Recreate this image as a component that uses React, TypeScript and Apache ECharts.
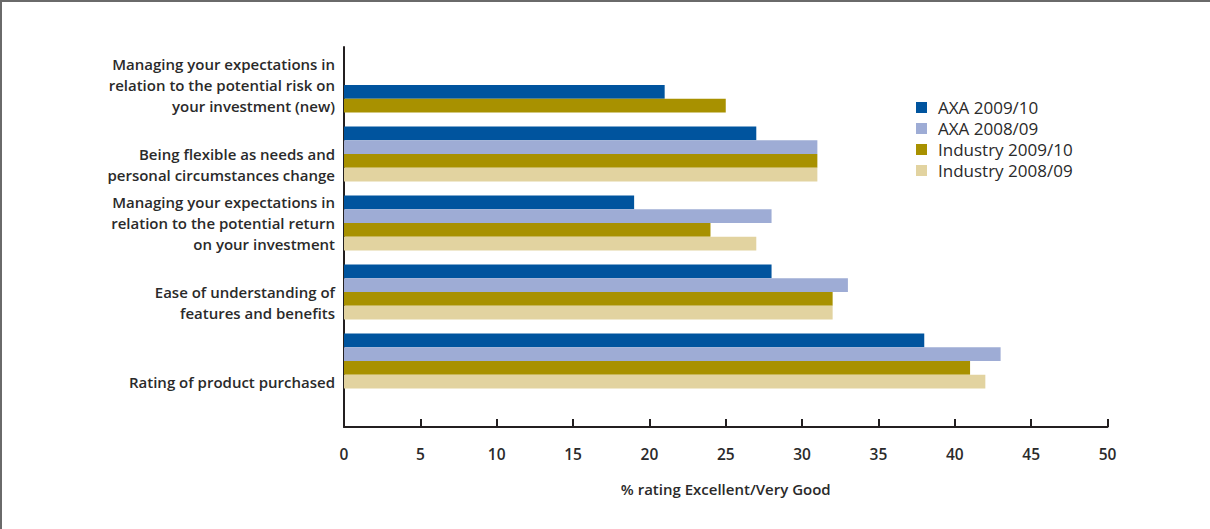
import React, { useEffect, useRef } from "react";
import * as echarts from "echarts";

// Survey categories, top to bottom
const categories = [
  "Managing your expectations in\nrelation to the potential risk on\nyour investment (new)",
  "Being flexible as needs and\npersonal circumstances change",
  "Managing your expectations in\nrelation to the potential return\non your investment",
  "Ease of understanding of\nfeatures and benefits",
  "Rating of product purchased",
];

// Blank lines pushed above each label so it sits lower beside its bar group
const labelDropLines = [0, 1, 0, 1, 2];

const seriesNames = ["AXA 2009/10", "AXA 2008/09", "Industry 2009/10", "Industry 2008/09"];
const seriesColors = ["#00549e", "#9eacd5", "#a89100", "#e2d3a0"];

// % rating Excellent/Very Good (null = not surveyed)
const axa0910 = [null, 27, 19, 28, 38];
const axa0809 = [null, 31, 28, 33, 43];
const ind0910 = [null, 31, 24, 32, 41];
const ind0809 = [null, 31, 27, 32, 42];

// The new question only has 2009/10 results; its two bars sit in the
// lower half of the group.
const newQuestionAxa0910 = [21, null, null, null, null];
const newQuestionInd0910 = [25, null, null, null, null];

const xTicks = { min: 0, max: 50, interval: 5 };

const FONT = "'Open Sans', 'Liberation Sans', sans-serif";
const INK = "#2a2a2a";

export default function App() {
  const ref = useRef<HTMLDivElement>(null);

  useEffect(() => {
    if (!ref.current) return;
    const chart = echarts.init(ref.current, undefined, { renderer: "svg" });

    const bar = (name: string, data: (number | null)[], color: string, stack: string) => ({
      type: "bar",
      name,
      data,
      stack,
      xAxisIndex: 1,
      yAxisIndex: 1,
      itemStyle: { color },
      barGap: "0%",
      barCategoryGap: "20%",
      emphasis: { disabled: true },
    });

    chart.setOption({
      animation: false,
      backgroundColor: "#ffffff",
      textStyle: { fontFamily: FONT },
      legend: {
        data: seriesNames,
        orient: "vertical",
        left: 911,
        top: 92,
        itemWidth: 11,
        itemHeight: 11,
        itemGap: 0,
        icon: "rect",
        selectedMode: false,
        textStyle: {
          fontFamily: FONT,
          fontSize: 17,
          color: INK,
          lineHeight: 21,
          padding: [0, 0, 0, 6],
        },
      },
      grid: [
        // frame grid: carries the visible axes
        { left: 344, right: 102.5, top: 47, bottom: 102, containLabel: false },
        // bar grid: category bands
        { left: 344, right: 102.5, top: 50.5, height: 345, containLabel: false },
      ],
      xAxis: [
        {
          type: "value",
          gridIndex: 0,
          min: xTicks.min,
          max: xTicks.max,
          interval: xTicks.interval,
          name: "% rating Excellent/Very Good",
          nameLocation: "middle",
          nameGap: 54,
          nameTextStyle: { fontFamily: FONT, fontSize: 15, fontWeight: 600, color: INK },
          axisLine: { show: true, lineStyle: { color: "#231f20", width: 2 } },
          axisTick: { show: true, inside: true, length: 8, lineStyle: { color: "#231f20", width: 2 } },
          axisLabel: { margin: 19, fontFamily: FONT, fontSize: 15.5, fontWeight: 600, color: INK },
          splitLine: { show: false },
        },
        {
          type: "value",
          gridIndex: 1,
          min: xTicks.min,
          max: xTicks.max,
          interval: xTicks.interval,
          show: false,
        },
      ],
      yAxis: [
        {
          type: "category",
          gridIndex: 0,
          data: ["", ""],
          axisLine: { show: true, lineStyle: { color: "#231f20", width: 2 } },
          axisTick: { show: false },
          axisLabel: { show: false },
          splitLine: { show: false },
        },
        {
          type: "category",
          gridIndex: 1,
          inverse: true,
          data: categories,
          axisLine: { show: false },
          axisTick: { show: false },
          splitLine: { show: false },
          axisLabel: {
            margin: 9,
            fontFamily: FONT,
            fontSize: 15,
            fontWeight: 600,
            color: INK,
            lineHeight: 21,
            align: "right",
            formatter: (value: string, index: number) =>
              "\n".repeat(labelDropLines[index]) + value,
          },
        },
      ],
      series: [
        bar(seriesNames[0], axa0910, seriesColors[0], "s1"),
        bar(seriesNames[1], axa0809, seriesColors[1], "s2"),
        bar(seriesNames[2], ind0910, seriesColors[2], "s3"),
        bar(seriesNames[3], ind0809, seriesColors[3], "s4"),
        bar(seriesNames[0], newQuestionAxa0910, seriesColors[0], "s3"),
        bar(seriesNames[2], newQuestionInd0910, seriesColors[2], "s4"),
      ],
    });

    return () => chart.dispose();
  }, []);

  return (
    <div style={{ position: "fixed", left: 0, top: 0, width: 1210, height: 529, background: "#fff" }}>
      <div ref={ref} style={{ width: 1210, height: 529 }} />
      <div
        style={{
          position: "absolute",
          left: 0,
          top: 0,
          width: 1210,
          height: 529,
          boxSizing: "border-box",
          borderTop: "2px solid #6a6a6a",
          borderLeft: "2px solid #6a6a6a",
          pointerEvents: "none",
        }}
      />
    </div>
  );
}
